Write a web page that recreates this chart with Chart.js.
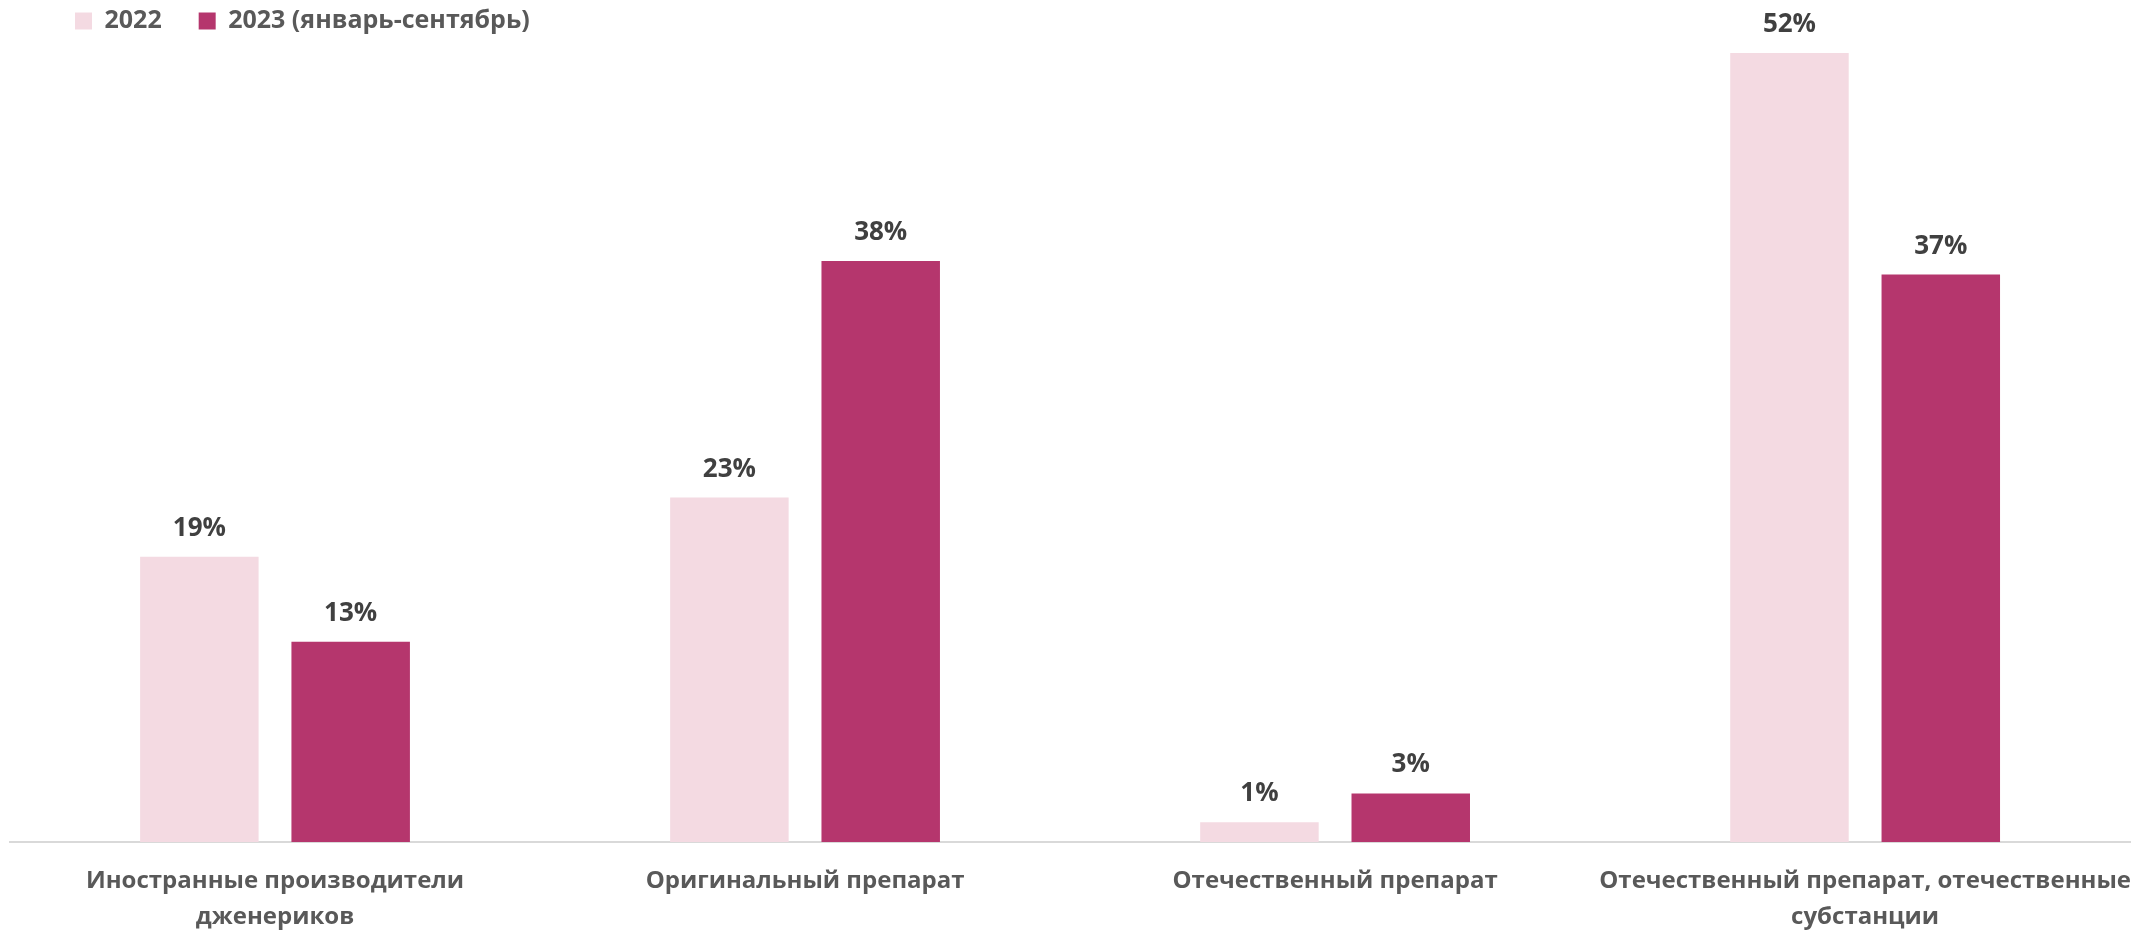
<!DOCTYPE html>
<html>
<head>
<meta charset="utf-8">
<script src="https://cdn.jsdelivr.net/npm/chart.js@4"></script>
<style>
  html, body { margin: 0; padding: 0; background: #fff; }
  #wrap { width: 2154px; height: 933px; }
</style>
</head>
<body>
<div id="wrap"><canvas id="shareChart" width="2154" height="933"></canvas></div>
<script>
const categories = [
  ['Иностранные производители', 'дженериков'],
  'Оригинальный препарат',
  'Отечественный препарат',
  ['Отечественный препарат, отечественные', 'субстанции']
];
const values2022 = [18.8, 22.7, 1.3, 52.0];
const values2023 = [13.2, 38.3, 3.2, 37.4];
const seriesNames = ['2022', '2023 (январь-сентябрь)'];

const FONT = "'Open Sans', 'DejaVu Sans', sans-serif";
const LEGEND_GAP = 37;

// percentages above each bar
const barLabels = {
  id: 'barLabels',
  afterDatasetsDraw(chart) {
    const ctx = chart.ctx;
    ctx.save();
    ctx.font = `bold 26px ${FONT}`;
    ctx.fillStyle = '#404040';
    ctx.textAlign = 'center';
    ctx.textBaseline = 'alphabetic';
    chart.data.datasets.forEach((ds, i) => {
      chart.getDatasetMeta(i).data.forEach((bar, j) => {
        ctx.fillText(Math.round(ds.data[j]) + '%', bar.x, bar.y - 21);
      });
    });
    ctx.restore();
  }
};

// legend: wide gap between items but kept in a short strip at the top-left
const legendShift = {
  id: 'legendShift',
  afterLayout(chart) {
    const lg = chart.legend;
    lg.left = 75 - LEGEND_GAP;
    lg.top = 21 - 12.5 - LEGEND_GAP;
  }
};

new Chart(document.getElementById('shareChart').getContext('2d'), {
  type: 'bar',
  data: {
    labels: categories,
    datasets: [
      {
        label: seriesNames[0],
        data: values2022,
        backgroundColor: '#f4dae2',
        categoryPercentage: 0.571,
        barPercentage: 0.783
      },
      {
        label: seriesNames[1],
        data: values2023,
        backgroundColor: '#b5366d',
        categoryPercentage: 0.571,
        barPercentage: 0.783
      }
    ]
  },
  options: {
    responsive: false,
    animation: false,
    layout: { padding: { left: 10, right: 16, top: 0, bottom: 0 } },
    plugins: {
      legend: {
        position: 'top',
        align: 'start',
        maxHeight: 44,
        labels: {
          boxWidth: 17,
          boxHeight: 17,
          padding: LEGEND_GAP,
          color: '#595959',
          font: { family: FONT, size: 25, weight: 'bold' }
        }
      },
      tooltip: { enabled: false }
    },
    scales: {
      x: {
        grid: { display: false, drawTicks: false },
        border: { display: true, color: '#d9d9d9', width: 2 },
        ticks: {
          padding: 21,
          color: '#595959',
          font: { family: FONT, size: 24, weight: 'bold', lineHeight: 1.5 },
          maxRotation: 0,
          autoSkip: false
        },
        afterFit(scale) { scale.height = 91; }
      },
      y: {
        display: false,
        min: 0,
        max: 52.6
      }
    }
  },
  plugins: [barLabels, legendShift]
});
</script>
</body>
</html>
